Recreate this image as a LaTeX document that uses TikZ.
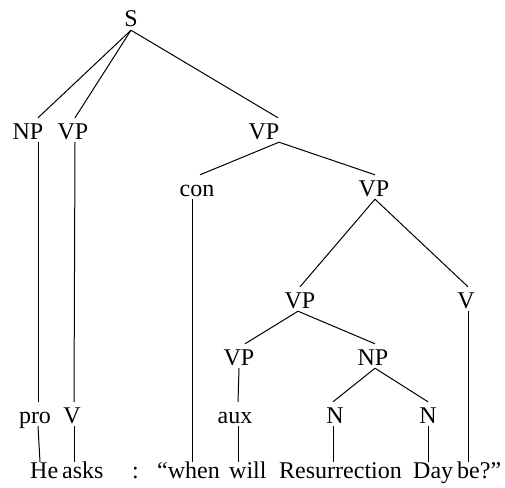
\documentclass[tikz,border=0pt]{standalone}
\usepackage{fontspec}
\setmainfont{Liberation Serif}
\begin{document}
\begin{tikzpicture}[x=1pt,y=-1pt,
  lbl/.style={anchor=base,inner sep=0pt,text height=21pt,text depth=3pt,font=\fontsize{24}{28}\selectfont},
  word/.style={anchor=base west,inner sep=0pt,text height=16pt,text depth=0pt,font=\fontsize{24}{28}\selectfont},
  br/.style={line width=1pt,black}]
\useasboundingbox (0,0) rectangle (505,487);
% labels
\node[lbl] (S) at (131,27) {S};
\node[lbl] (NPa) at (28,139) {NP};
\node[lbl] (VPa) at (73,139) {VP};
\node[lbl] (VPb) at (264,139) {VP};
\node[lbl] (con) at (197,196) {con};
\node[lbl] (VPc) at (374,196) {VP};
\node[lbl] (VPd) at (300,308) {VP};
\node[lbl] (Vb) at (466,308) {V};
\node[lbl] (VPe) at (239,365) {VP};
\node[lbl] (NPb) at (373,365) {NP};
\node[lbl] (pro) at (35,423) {pro};
\node[lbl] (Va) at (72,423) {V};
\node[lbl] (aux) at (235,423) {aux};
\node[lbl] (Na) at (335,423) {N};
\node[lbl] (Nb) at (428,423) {N};
% words
\node[word] (He) at (30,478) {He};
\node[word] (asks) at (62,478) {asks};
\node[word] (colon) at (132,478) {:};
\node[word] (when) at (157,478) {“when};
\node[word] (will) at (229,478) {will};
\node[word] (Res) at (279,478) {Resurrection};
\node[word] (Day) at (413,478) {Day};
\node[word] (be) at (457,478) {be?”};
% branches
\draw[br] (131,0 |- S.south) -- (38,0 |- NPa.north);
\draw[br] (131,0 |- S.south) -- (75,0 |- VPa.north);
\draw[br] (131,0 |- S.south) -- (278,0 |- VPb.north);
\draw[br] (38,0 |- NPa.south) -- (38,0 |- pro.north);
\draw[br] (75,0 |- VPa.south) -- (74,0 |- Va.north);
\draw[br] (279,0 |- VPb.south) -- (200,0 |- con.north);
\draw[br] (279,0 |- VPb.south) -- (375,0 |- VPc.north);
\draw[br] (192,0 |- con.south) -- (192,0 |- when.north);
\draw[br] (375,0 |- VPc.south) -- (300,0 |- VPd.north);
\draw[br] (375,0 |- VPc.south) -- (468,0 |- Vb.north);
\draw[br] (468,0 |- Vb.south) -- (468,0 |- be.north);
\draw[br] (298,0 |- VPd.south) -- (245,0 |- VPe.north);
\draw[br] (298,0 |- VPd.south) -- (375,0 |- NPb.north);
\draw[br] (239,0 |- VPe.south) -- (238,0 |- aux.north);
\draw[br] (375,0 |- NPb.south) -- (333,0 |- Na.north);
\draw[br] (375,0 |- NPb.south) -- (428,0 |- Nb.north);
\draw[br] (38,0 |- pro.south) -- (40,0 |- He.north);
\draw[br] (74,0 |- Va.south) -- (74,0 |- asks.north);
\draw[br] (238,0 |- aux.south) -- (238,0 |- will.north);
\draw[br] (333,0 |- Na.south) -- (333,0 |- Res.north);
\draw[br] (428,0 |- Nb.south) -- (428,0 |- Day.north);
\end{tikzpicture}
\end{document}
